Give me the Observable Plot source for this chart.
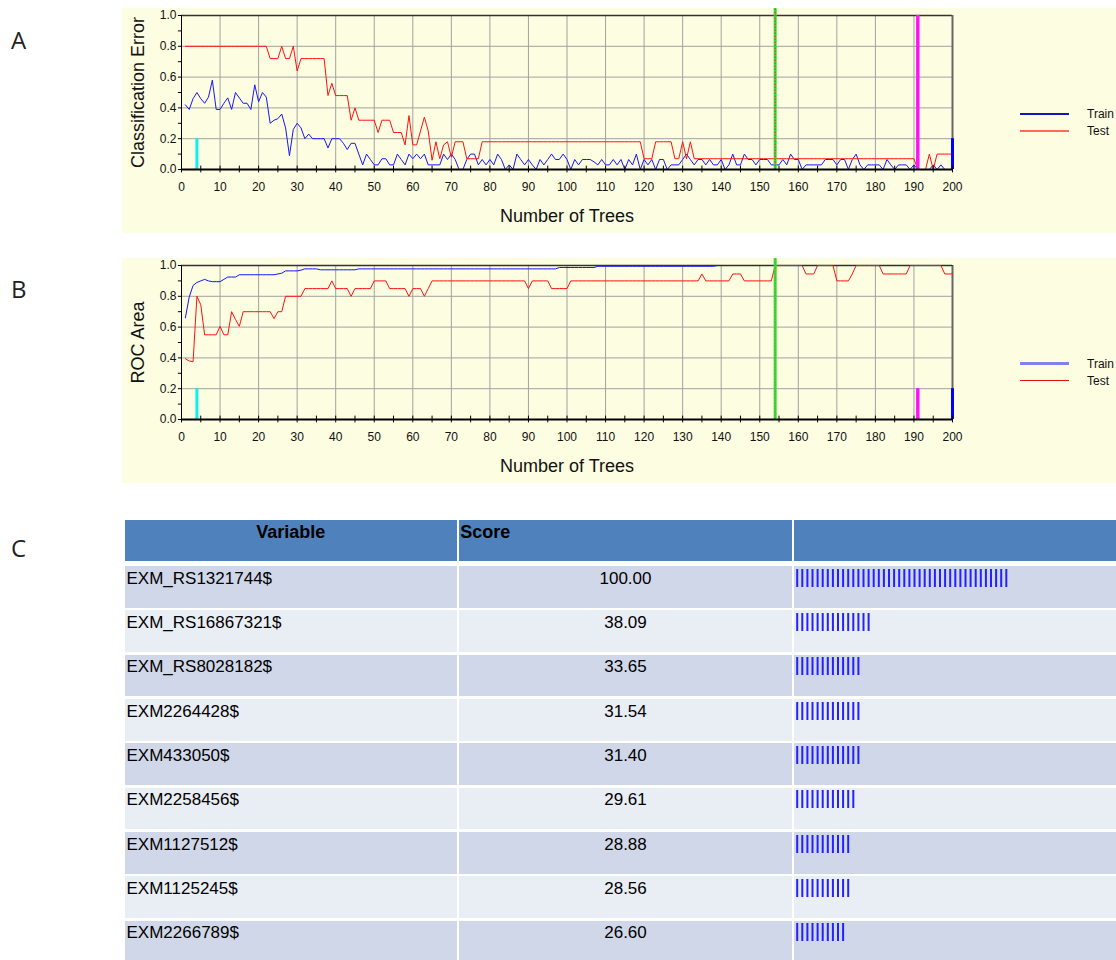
<!DOCTYPE html>
<html><head><meta charset="utf-8">
<script src="https://cdn.jsdelivr.net/npm/d3@7"></script>
<script src="https://cdn.jsdelivr.net/npm/@observablehq/plot@0.6"></script>
<style>
body{margin:0;background:#fff;font-family:"Liberation Sans",Arial,sans-serif;}
#page{position:relative;width:1116px;height:960px;overflow:hidden;background:#fff;}
.plab{position:absolute;left:11px;font-family:"Open Sans","Noto Sans",sans-serif;font-size:24px;line-height:24px;color:#222;}
.panel{position:absolute;left:122px;width:994px;height:225px;background:#fdfde1;}
.panel svg{position:absolute;left:0;top:0;}
.lg-line{position:absolute;left:898px;width:49px;}
.lg-text{position:absolute;left:965px;font-size:12px;line-height:14px;color:#111;}
.cell{position:absolute;box-sizing:border-box;white-space:nowrap;}
</style></head><body><div id="page"></div><script>
// ---------- data ----------
const trees = d3.range(1, 201);
const xTicks = [0,10,20,30,40,50,60,70,80,90,100,110,120,130,140,150,160,170,180,190,200];
const xMinorTicks = [0,5,10,15,20,25,30,35,40,45,50,55,60,65,70,75,80,85,90,95,100,105,110,115,120,125,130,135,140,145,150,155,160,165,170,175,180,185,190,195,200];
const yTicks = [0,0.2,0.4,0.6,0.8,1.0];
const yMinorTicks = [0,0.1,0.2,0.3,0.4,0.5,0.6,0.7,0.8,0.9,1.0];
const markerStart = 4, markerBest = 154, markerAlt = 191, markerEnd = 200;

const errTrain = [
0.42,0.39,0.46,0.50,0.46,0.43,0.47,0.58,0.39,0.39,
0.43,0.465,0.39,0.50,0.465,0.43,0.43,0.39,0.55,0.44,
0.50,0.47,0.30,0.32,0.33,0.36,0.27,0.09,0.26,0.30,
0.27,0.20,0.23,0.20,0.20,0.20,0.20,0.14,0.20,0.20,
0.20,0.17,0.13,0.17,0.17,0.10,0.03,0.10,0.065,0.03,
0.03,0.07,0.07,0.03,0.03,0.10,0.065,0.03,0.10,0.07,
0.10,0.07,0.10,0.03,0.03,0.03,0.03,0.10,0.065,0.10,
0.065,0,0,0.065,0.10,0.10,0.03,0.065,0.03,0.065,
0.03,0.10,0.065,0,0.03,0,0.10,0.065,0.03,0.065,
0.03,0,0.065,0.03,0.065,0.10,0.065,0.065,0.10,0.065,
0,0.065,0.03,0.065,0.065,0.065,0.05,0.03,0.065,0.03,
0.03,0.065,0.03,0.065,0,0.065,0.03,0.10,0,0.065,
0.03,0.065,0,0.065,0.065,0,0.03,0.03,0.03,0.065,
0.10,0.065,0.03,0.065,0.065,0.03,0.065,0.03,0.03,0.065,
0,0.03,0.10,0.03,0.03,0.10,0.065,0.065,0.03,0.065,
0.065,0.065,0.03,0.03,0.03,0.065,0.03,0.10,0.065,0.065,
0,0.03,0.03,0.03,0.03,0.03,0.065,0.065,0.065,0.03,
0.065,0.065,0,0.065,0.10,0.03,0,0.03,0.03,0.03,
0.03,0,0.065,0.03,0,0.03,0.03,0.03,0,0.03,
0,0,0,0,0.03,0,0.03,0,0,0
];
const errTest = [
0.8,0.8,0.8,0.8,0.8,0.8,0.8,0.8,0.8,0.8,
0.8,0.8,0.8,0.8,0.8,0.8,0.8,0.8,0.8,0.8,
0.8,0.8,0.72,0.72,0.72,0.8,0.72,0.72,0.8,0.64,
0.72,0.72,0.72,0.72,0.72,0.72,0.72,0.48,0.56,0.48,
0.48,0.48,0.48,0.32,0.40,0.32,0.32,0.32,0.32,0.32,
0.24,0.32,0.32,0.32,0.24,0.24,0.24,0.16,0.35,0.16,
0.16,0.25,0.34,0.25,0.06,0.18,0.07,0.16,0.18,0.08,
0.18,0.18,0.18,0.07,0.07,0.07,0.07,0.18,0.18,0.18,
0.18,0.18,0.18,0.18,0.18,0.18,0.18,0.18,0.18,0.18,
0.18,0.18,0.18,0.18,0.18,0.18,0.18,0.18,0.18,0.18,
0.18,0.18,0.18,0.18,0.18,0.18,0.18,0.18,0.18,0.18,
0.18,0.18,0.18,0.18,0.18,0.18,0.18,0.18,0.18,0.07,
0.07,0.07,0.18,0.18,0.18,0.18,0.18,0.07,0.07,0.18,
0.07,0.18,0.07,0.07,0.07,0.07,0.07,0.07,0.07,0.07,
0.07,0.07,0.07,0.07,0.07,0.07,0.07,0.07,0.07,0.07,
0.07,0.07,0.07,0.07,0.07,0.07,0.07,0.07,0.07,0.07,
0.07,0.07,0.07,0.07,0.07,0.07,0.07,0.07,0.07,0.07,
0.07,0.07,0.07,0.07,0.07,0.07,0.07,0.07,0.07,0.07,
0.07,0.07,0.07,0.07,0.07,0.07,0.07,0.07,0.07,0.07,
0,0,0,0.10,0,0.10,0.10,0.10,0.10,0.10
];
const rocTrain = [
0.66,0.795,0.87,0.89,0.90,0.91,0.90,0.895,0.895,0.895,
0.91,0.925,0.925,0.925,0.94,0.94,0.94,0.94,0.94,0.94,
0.94,0.94,0.94,0.94,0.945,0.95,0.965,0.965,0.965,0.965,
0.97,0.978,0.978,0.978,0.978,0.972,0.972,0.972,0.972,0.972,
0.972,0.972,0.972,0.972,0.972,0.978,0.978,0.978,0.978,0.978,
0.978,0.978,0.978,0.978,0.978,0.978,0.978,0.978,0.978,0.978,
0.978,0.978,0.978,0.978,0.978,0.978,0.978,0.978,0.978,0.978,
0.978,0.978,0.978,0.978,0.978,0.978,0.978,0.978,0.978,0.978,
0.978,0.978,0.978,0.978,0.978,0.978,0.978,0.978,0.978,0.978,
0.978,0.978,0.978,0.978,0.978,0.978,0.978,0.987,0.987,0.987,
0.987,0.987,0.987,0.987,0.987,0.987,0.987,0.995,0.995,0.995,
0.995,0.995,0.995,0.995,0.995,0.995,0.995,0.995,0.995,0.995,
0.995,0.995,0.995,0.995,0.995,0.995,0.995,0.995,0.995,0.995,
0.995,0.995,0.995,0.995,0.995,0.995,0.995,0.995,1,1,
1,1,1,1,1,1,1,1,1,1,
1,1,1,1,1,1,1,1,1,1,
1,1,1,1,1,1,1,1,1,1,
1,1,1,1,1,1,1,1,1,1,
1,1,1,1,1,1,1,1,1,1,
1,1,1,1,1,1,1,1,1,1
];
const rocTest = [
0.395,0.38,0.375,0.80,0.745,0.55,0.55,0.55,0.55,0.605,
0.55,0.55,0.70,0.65,0.605,0.70,0.70,0.70,0.70,0.70,
0.70,0.70,0.70,0.655,0.70,0.70,0.80,0.80,0.80,0.80,
0.80,0.85,0.85,0.85,0.85,0.85,0.85,0.85,0.90,0.85,
0.85,0.85,0.85,0.80,0.85,0.85,0.85,0.85,0.85,0.90,
0.90,0.90,0.90,0.85,0.85,0.85,0.85,0.85,0.80,0.85,
0.85,0.85,0.80,0.85,0.90,0.90,0.90,0.90,0.90,0.90,
0.90,0.90,0.90,0.90,0.90,0.90,0.90,0.90,0.90,0.90,
0.90,0.90,0.90,0.90,0.90,0.90,0.90,0.90,0.90,0.85,
0.90,0.90,0.90,0.90,0.90,0.85,0.85,0.85,0.85,0.85,
0.90,0.90,0.90,0.90,0.90,0.90,0.90,0.90,0.90,0.90,
0.90,0.90,0.90,0.90,0.90,0.90,0.90,0.90,0.90,0.90,
0.90,0.90,0.90,0.90,0.90,0.90,0.90,0.90,0.90,0.90,
0.90,0.90,0.90,0.90,0.945,0.90,0.90,0.90,0.90,0.90,
0.90,0.90,0.945,0.945,0.945,0.90,0.90,0.90,0.90,0.90,
0.90,0.90,0.90,1,1,1,1,1,1,1,
1,0.945,0.945,0.945,1,1,1,1,1,0.90,
0.90,0.90,0.90,0.945,1,1,1,1,1,1,
1,0.945,0.945,0.945,0.945,0.945,0.945,0.945,1,1,
1,1,1,1,1,1,1,0.945,0.945,0.945
];

const variables = ["EXM_RS1321744$","EXM_RS16867321$","EXM_RS8028182$","EXM2264428$","EXM433050$","EXM2258456$","EXM1127512$","EXM1125245$","EXM2266789$"];
const scores = [100.00,38.09,33.65,31.54,31.40,29.61,28.88,28.56,26.60];
const barTicks = [42,15,13,13,13,12,11,11,10];
const headers = ["Variable","Score",""];

// ---------- page ----------
const page = d3.select("#page");
[["A",28],["B",277],["C",536]].forEach(([t,top]) =>
  page.append("div").attr("class","plab").style("top", top+"px").text(t));

const font = "'Liberation Sans', Arial, sans-serif";

function panel(top, train, test, ylabel, full191, legendColors, legendWidths) {
  const rows = trees.map((t,i) => ({t, train: train[i], test: test[i]}));
  const div = page.append("div").attr("class","panel").style("top", top+"px");
  const svg = Plot.plot({
    width: 994, height: 225,
    marginLeft: 59, marginRight: 164, marginTop: 7, marginBottom: 64,
    style: {background: "transparent", fontFamily: font, fontSize: "12px", color: "#111", overflow: "visible"},
    x: {domain: [0, 200], axis: null},
    y: {domain: [0, 1], axis: null},
    marks: [
      Plot.ruleX(xTicks.filter(d => d > 0 && d < 200), {stroke: "#a2a2a2", strokeWidth: 1}),
      Plot.ruleY(yTicks.filter(d => d > 0 && d < 1), {stroke: "#a2a2a2", strokeWidth: 1}),
      Plot.ruleY([1], {stroke: "#333", strokeWidth: 1.5}),
      Plot.ruleX([200], {stroke: "#666", strokeWidth: 2}),
      Plot.ruleX([0], {stroke: "#000", strokeWidth: 1}),
      Plot.line(rows, {x: "t", y: "train", stroke: "#1515ff", strokeWidth: 1}),
      Plot.line(rows, {x: "t", y: "test", stroke: "#ff1010", strokeWidth: 1}),
      Plot.ruleX([markerStart], {y1: 0, y2: 0.2, stroke: "#10eef0", strokeWidth: 3}),
      Plot.ruleX([markerBest], {y1: 0, y2: 1.045, stroke: "#33dd33", strokeWidth: 3}),
      Plot.ruleX([markerBest], {y1: 0, y2: 1.045, stroke: "#ee3030", strokeWidth: 1, strokeDasharray: "1.5,1.5", strokeOpacity: full191 ? 1 : 0.35}),
      Plot.ruleX([markerAlt], {y1: 0, y2: full191 ? 1 : 0.2, stroke: "#ff10ff", strokeWidth: 3.5}),
      Plot.ruleX([markerEnd], {y1: 0, y2: 0.2, stroke: "#0000ff", strokeWidth: 3}),
      Plot.ruleY([0], {stroke: "#000", strokeWidth: 2}),
      Plot.ruleX(xMinorTicks, {y1: -0.022, y2: 0.022, stroke: "#000", strokeWidth: 1}),
      Plot.ruleY(yMinorTicks, {x1: -0.8, x2: 0, stroke: "#000", strokeWidth: 1}),
      Plot.text(xTicks, {x: d => d, y: 0, dy: 18, text: d => String(d), fontSize: 12, fill: "#111"}),
      Plot.text(yTicks, {x: 0, y: d => d, dx: -5, text: d => d.toFixed(1), textAnchor: "end", fontSize: 12, fill: "#111"}),
      Plot.text([ylabel], {frameAnchor: "left", textAnchor: "middle", lineAnchor: "middle", rotate: -90, dx: -43, fontSize: 18, fill: "#111"}),
      Plot.text(["Number of Trees"], {frameAnchor: "bottom", dy: 52.5, fontSize: 18, fill: "#111"})
    ]
  });
  div.node().appendChild(svg);
  [["Train", legendColors[0], legendWidths[0], 105.5], ["Test", legendColors[1], legendWidths[1], 122.5]].forEach(([name, col, w, y]) => {
    div.append("div").attr("class","lg-line")
      .style("top", (y - w / 2) + "px").style("height", w + "px").style("background", col);
    div.append("div").attr("class","lg-text").style("top", (y - 7) + "px").text(name);
  });
}

panel(8, errTrain, errTest, "Classification Error", true, ["#1515c0", "#ff6a5a"], [2, 2]);
panel(258, rocTrain, rocTest, "ROC Area", false, ["#8080ee", "#e01010"], [2.5, 1.5]);

// ---------- table ----------
const colLeft = [125, 459.3, 794];
const colWidth = [331.7, 332.4, 330];
headers.forEach((h, j) => {
  page.append("div").attr("class","cell")
    .style("left", colLeft[j]+"px").style("top","520px")
    .style("width", colWidth[j]+"px").style("height","41px")
    .style("background","#4f81bd").style("padding-top","2px")
    .style("font-weight","bold").style("font-size","18px").style("line-height","20px")
    .style("color","#000")
    .style("text-align", j === 0 ? "center" : "left")
    .style("padding-left", j === 1 ? "1px" : "0px")
    .text(h);
});
variables.forEach((v, i) => {
  const top = 566 + i * 44.35;
  const bg = i % 2 === 0 ? "#d0d7e8" : "#e9edf4";
  const vals = [v, scores[i].toFixed(2), ""];
  vals.forEach((txt, j) => {
    const c = page.append("div").attr("class","cell")
      .style("left", colLeft[j]+"px").style("top", top+"px")
      .style("width", colWidth[j]+"px").style("height","41.5px")
      .style("background", bg).style("padding-top", "2.5px")
      .style("font-size","17px").style("line-height","20px").style("color","#000")
      .style("text-align", j === 1 ? "center" : "left")
      .style("padding-left", j === 0 ? "1.5px" : "0px")
      .text(txt);
    if (j === 2) {
      const bars = Plot.plot({
        width: 322, height: 18, margin: 0,
        style: {background: "transparent", overflow: "visible"},
        x: {domain: [0, 62], range: [2.7, 2.7 + 62 * 5.1], axis: null},
        marks: [Plot.tickX(d3.range(barTicks[i]), {x: d => d, stroke: "#2222ff", strokeWidth: 2})]
      });
      d3.select(bars).style("position","absolute").style("left","0px").style("top","2.5px");
      c.node().appendChild(bars);
    }
  });
});
</script></body></html>
